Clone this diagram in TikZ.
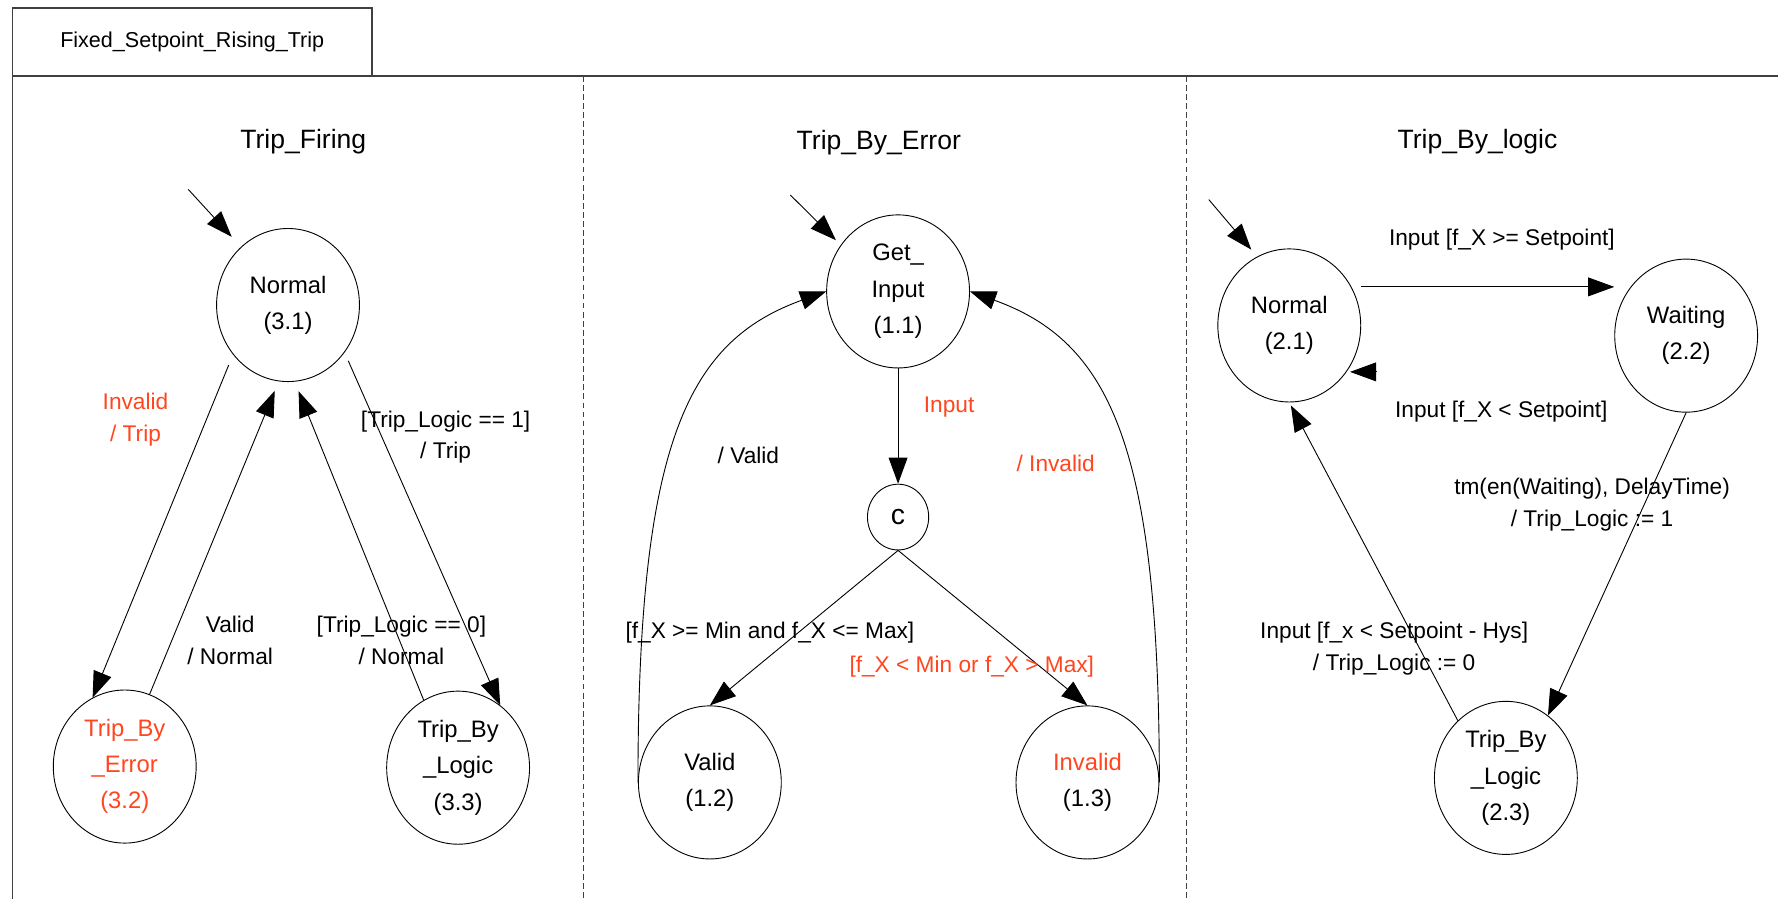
\documentclass[tikz,border=0pt]{standalone}
\usepackage{fontspec}
\setmainfont{Liberation Sans}
\usepackage{xcolor}
\usepackage{tikz}
\usetikzlibrary{shapes.geometric,arrows.meta,calc}

\definecolor{errred}{RGB}{255,70,30}

\begin{document}
\begin{tikzpicture}[
  x=0.5pt, y=-0.5pt,
  state/.style={ellipse, draw=black, line width=0.4pt, minimum width=63pt,
                minimum height=67.5pt, inner sep=0pt, align=center,
                font=\fontsize{10.5}{16}\selectfont},
  choice/.style={ellipse, draw=black, line width=0.4pt, minimum width=27pt,
                 minimum height=29pt, inner sep=0pt, font=\fontsize{12.5}{14}\selectfont},
  arr/.style={-{Triangle[length=11.5pt, width=8.3pt]}, line width=0.4pt},
  lbl/.style={font=\fontsize{10}{14}\selectfont, align=center, inner sep=0pt},
  hdr/.style={font=\fontsize{11.7}{14}\selectfont, inner sep=0pt},
  tab/.style={rectangle, draw=black!75, line width=0.55pt, minimum width=158.5pt,
              minimum height=30pt, inner sep=0pt, font=\fontsize{9.5}{12}\selectfont},
  frame/.style={draw=black!75, line width=0.55pt},
  sep/.style={draw=black!75, line width=0.45pt, dash pattern=on 2.5pt off 1.5pt}
]
\useasboundingbox (0,0) rectangle (1568,793);

% frame
\node[tab] (tab) at (169.5,37) {Fixed\_Setpoint\_Rising\_Trip};
\draw[frame] (11,793) -- (11,67) -- (1568,67);
\draw[sep] (515,67) -- (515,793);
\draw[sep] (1046,67) -- (1046,793);

% Trip_Firing
\node[hdr] (hFiring) at (267.5,125) {Trip\_Firing};
\node[state] (n31) at (254,269) {Normal\\(3.1)};
\node[state, text=errred] (e32) at (110,676) {Trip\_By\\\_Error\\(3.2)};
\node[state] (l33) at (404,677) {Trip\_By\\\_Logic\\(3.3)};
\coordinate (init1) at (166,167);
\draw[arr, shorten >=6pt] (init1) -- (n31.129);
\draw[arr, shorten <=5pt] (n31.222) -- (e32.115);
\draw[arr, shorten >=4.5pt] (e32.71) -- (n31.263);
\draw[arr, shorten >=4.5pt] (l33.117) -- (n31.275);
\draw[arr, shorten <=4pt] (n31.320) -- (l33.56);
\node[lbl, text=errred] (lInvTrip) at (119.5,370) {Invalid\\/ Trip};
\node[lbl] (lValNorm) at (203,565) {Valid\\/ Normal};
\node[lbl] (lLog0) at (354,565) {[Trip\_Logic == 0]\\/ Normal};
\node[lbl] (lLog1) at (393,385.5) {[Trip\_Logic == 1]\\/ Trip};

% Trip_By_Error
\node[hdr] (hError) at (775,126) {Trip\_By\_Error};
\node[state] (gi) at (792,257) {Get\_\\Input\\(1.1)};
\node[choice] (c) at (792,456) {c};
\node[state] (v12) at (626,690) {Valid\\(1.2)};
\node[state] (i13) at (959,690) {\textcolor{errred}{Invalid}\\(1.3)};
\coordinate (init2) at (697,172);
\draw[arr, shorten >=3pt] (init2) -- (gi.141);
\draw[arr] (gi.south) -- (c.north);
\draw[arr] (c.south) -- (v12.north);
\draw[arr] (c.south) -- (i13.north);
\draw[arr] (v12.west) .. controls +(0,-300) and +(-122,44) .. (gi.west);
\draw[arr] (i13.east) .. controls +(0,-300) and +(122,44) .. (gi.east);
\node[lbl, text=errred] (lInput) at (837,359) {Input};
\node[lbl] (lValid) at (660,402) {/ Valid};
\node[lbl, text=errred] (lInvalid) at (931,409) {/ Invalid};
\node[lbl] (lInRange) at (679,558) {[f\_X >= Min and f\_X <= Max]};
\node[lbl, text=errred] (lOutRange) at (857,588) {[f\_X < Min or f\_X > Max]};

% Trip_By_logic
\node[hdr] (hLogic) at (1303,125) {Trip\_By\_logic};
\node[state] (n21) at (1137,287) {Normal\\(2.1)};
\node[state] (w22) at (1487,296) {Waiting\\(2.2)};
\node[state] (t23) at (1328,686) {Trip\_By\\\_Logic\\(2.3)};
\coordinate (init3) at (1066,176);
\draw[arr, shorten >=4pt] (init3) -- (n21.115);
\draw[arr] ($(n21.east)+(0,-34)$) -- ($(w22.west)+(0,-43)$);
\coordinate (back) at ($(n21.321)+(26,0)$);
\draw[arr, shorten >=1.5pt] (back) -- (n21.321);
\draw[arr] (w22.south) -- (t23.56);
\draw[arr, shorten >=1.5pt] (t23.130) -- (n21.south);
\node[lbl] (lGeSet) at (1324.5,211) {Input [f\_X >= Setpoint]};
\node[lbl] (lLtSet) at (1324,363) {Input [f\_X < Setpoint]};
\node[lbl] (lDelay) at (1404,445) {tm(en(Waiting), DelayTime)\\/ Trip\_Logic := 1};
\node[lbl] (lHys) at (1229.5,572) {Input [f\_x < Setpoint - Hys]\\/ Trip\_Logic := 0};
\end{tikzpicture}
\end{document}
